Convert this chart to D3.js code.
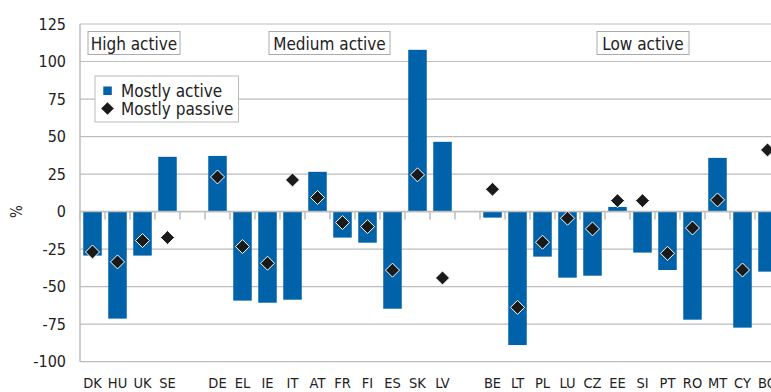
<!DOCTYPE html>
<html><head><meta charset="utf-8">
<script src="https://cdn.jsdelivr.net/npm/d3@7"></script>
<style>
html,body{margin:0;padding:0;background:#fff;overflow:hidden;}
text{font-family:"Liberation Sans Narrow","DejaVu Sans Condensed","Open Sans",sans-serif;fill:#222;}
</style></head>
<body>
<script>
const categories = ["DK","HU","UK","SE","g1","DE","EL","IE","IT","AT","FR","FI","ES","SK","LV","g2","BE","LT","PL","LU","CZ","EE","SI","PT","RO","MT","CY","BG"];
const mostlyActive = [-29.3,-71.3,-29.3,36.5,null,37.1,-59.3,-60.7,-58.7,26.5,-17.3,-20.7,-64.7,107.8,46.5,null,-4,-88.9,-30,-44,-42.7,3.1,-27.3,-38.9,-72,35.8,-77.3,-40];
const mostlyPassive = [-26.9,-33.5,-19.3,-17.3,null,23.1,-23.3,-34.4,21.1,9.4,-7.3,-10,-39,24.5,-44.2,null,14.9,-63.8,-20.4,-4.4,-11.5,7.3,7.3,-27.8,-10.9,7.8,-38.9,41.1];
const yTicks = [-100,-75,-50,-25,0,25,50,75,100,125];
const groupLabels = ["High active","Medium active","Low active"];
const seriesNames = ["Mostly active","Mostly passive"];

const W = 771, H = 392;
const svg = d3.select("body").append("svg").attr("width", W).attr("height", H);
const x = d3.scaleBand().domain(categories).range([80, 780]).paddingInner(0.26).paddingOuter(0.13);
const y = d3.scaleLinear().domain([-100, 125]).range([361.7, 24]);
const blue = "#0062a8", grid = "#bdbdbd";

// gridlines
svg.append("g").selectAll("line").data(yTicks).join("line")
  .attr("x1", 80).attr("x2", W).attr("y1", d => y(d)).attr("y2", d => y(d))
  .attr("stroke", grid).attr("stroke-width", 1.2);

// y axis labels
svg.append("g").selectAll("text").data(yTicks).join("text")
  .attr("x", 66).attr("y", d => y(d) + 5.5).attr("text-anchor", "end")
  .style("font-size", "16px").text(d => d);
svg.append("text").attr("transform", `translate(22,${y(0)}) rotate(-90)`)
  .attr("text-anchor", "middle").style("font-size", "15px").text("%");

// group boxes
const boxes = [[88, 180], [269, 390], [597, 689]];
boxes.forEach((b, i) => {
  svg.append("rect").attr("x", b[0]).attr("y", 31.5).attr("width", b[1]-b[0]).attr("height", 23)
    .attr("fill", "#fff").attr("stroke", "#aaa").attr("stroke-width", 1);
  svg.append("text").attr("x", (b[0]+b[1])/2).attr("y", 49.5).attr("text-anchor", "middle")
    .style("font-size", "17px").text(groupLabels[i]);
});

// bars
svg.append("g").selectAll("rect").data(categories.map((c, i) => ({c, v: mostlyActive[i]})).filter(d => d.v !== null))
  .join("rect")
  .attr("x", d => x(d.c)).attr("width", x.bandwidth())
  .attr("y", d => y(Math.max(0, d.v))).attr("height", d => Math.abs(y(d.v) - y(0)))
  .attr("fill", blue);

// left axis & zero line & ticks
svg.append("line").attr("x1", 80).attr("x2", 80).attr("y1", y(125)).attr("y2", y(-100)).attr("stroke", grid).attr("stroke-width", 1.5);
svg.append("line").attr("x1", 80).attr("x2", W).attr("y1", y(0)).attr("y2", y(0)).attr("stroke", grid).attr("stroke-width", 1.5);
const step = x.step();
svg.append("g").selectAll("line").data(d3.range(categories.length + 1))
  .join("line")
  .attr("x1", i => 80 + i * step).attr("x2", i => 80 + i * step)
  .attr("y1", y(0)).attr("y2", y(0) + 8).attr("stroke", grid).attr("stroke-width", 1.5);

// x labels
svg.append("g").selectAll("text").data(categories.filter(c => !c.startsWith("g")))
  .join("text")
  .attr("x", d => x(d) + x.bandwidth()/2).attr("y", 388).attr("text-anchor", "middle")
  .style("font-size", "14.5px").text(d => d);

// diamonds
const dpath = "M0,-7L7,0L0,7L-7,0Z";
svg.append("g").selectAll("path").data(categories.map((c, i) => ({c, v: mostlyPassive[i]})).filter(d => d.v !== null))
  .join("path")
  .attr("d", dpath)
  .attr("transform", d => `translate(${x(d.c) + x.bandwidth()/2},${y(d.v)})`)
  .attr("fill", "#1a1a1a").attr("stroke", "#fff").attr("stroke-width", 1);

// legend
svg.append("rect").attr("x", 95).attr("y", 76).attr("width", 143.5).attr("height", 46)
  .attr("fill", "#fff").attr("stroke", "#bbb").attr("stroke-width", 1);
svg.append("rect").attr("x", 103.3).attr("y", 86.5).attr("width", 8.5).attr("height", 8.5).attr("fill", blue);
svg.append("path").attr("d", "M0,-6.3L6.3,0L0,6.3L-6.3,0Z").attr("transform", "translate(107.5,108.5)").attr("fill", "#1a1a1a");
svg.append("text").attr("x", 121).attr("y", 96.5).style("font-size", "17px").text(seriesNames[0]);
svg.append("text").attr("x", 121).attr("y", 115).style("font-size", "17px").text(seriesNames[1]);
</script>
</body></html>
